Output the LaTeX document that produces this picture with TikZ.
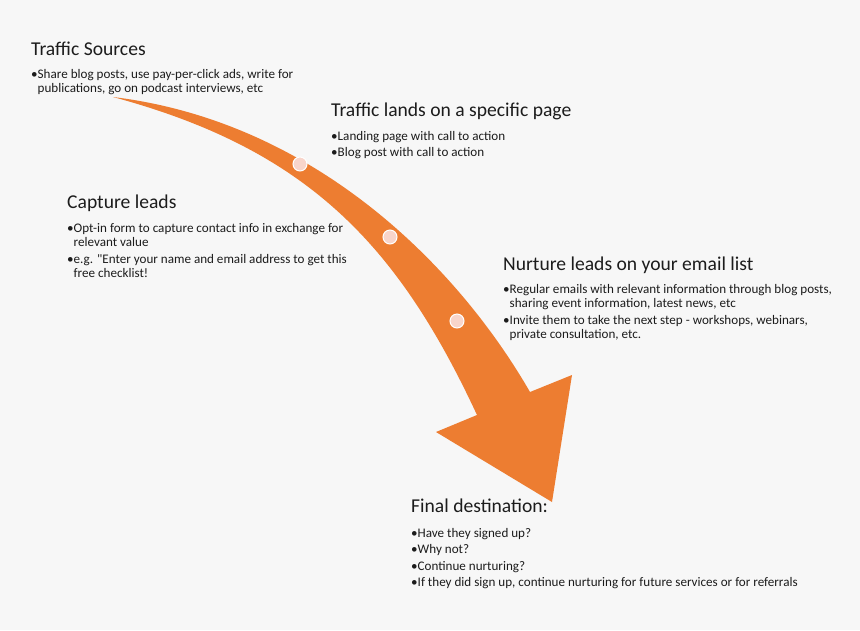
\documentclass[tikz,border=0pt]{standalone}
\usepackage{fontspec}
\setmainfont{Carlito}
\definecolor{arroworange}{HTML}{ED7D31}
\definecolor{dotpink}{HTML}{F8D5CB}
\definecolor{bggray}{HTML}{F7F7F7}
\definecolor{inkgray}{HTML}{1C1C1C}
\newcommand{\headsize}{\fontsize{19.6}{23}\selectfont}
\newcommand{\bodysize}{\fontsize{13.1}{14.6}\selectfont}
\newcommand{\ind}{\phantom{\textbullet}}

\begin{document}
\begin{tikzpicture}[x=1pt,y=-1pt,
  title/.style={anchor=base west,inner sep=0pt,text=inkgray,font=\headsize},
  bullets/.style={anchor=base west,inner sep=0pt,text=inkgray,font=\bodysize}]

	% background
	\fill[bggray] (0,0) rectangle (860,630);
	\useasboundingbox (0,0) rectangle (860,630);

	% arrow
	\fill[arroworange]
	  (113,97) .. controls (311,121) and (455,262) .. (530,392)
	  -- (572,375) -- (552,502) -- (436,432) -- (477,415)
	  .. controls (397,243) and (306,149) .. (113,97) -- cycle;

	% dots
	\foreach \p in {(300,164),(390,237),(457,321)}
	  \draw[white,fill=dotpink,line width=1pt] \p circle (7pt);

	% traffic sources
	\node[title] (srctitle) at (31,55) {Traffic Sources};
	\node[bullets] (srcbody) at (31,78) {\begin{tabular}[t]{@{}l@{}}
	  \textbullet Share blog posts, use pay-per-click ads, write for\\
	  \ind publications, go on podcast interviews, etc\end{tabular}};

	% landing page
	\node[title] (landtitle) at (331,116) {Traffic lands on a specific page};
	\node[bullets] (landbody) at (331,140) {\begin{tabular}[t]{@{}l@{}}
	  \textbullet Landing page with call to action\\[2pt]
	  \textbullet Blog post with call to action\end{tabular}};

	% capture leads
	\node[title] (leadtitle) at (67,208) {Capture leads};
	\node[bullets] (leadbody) at (67,232) {\begin{tabular}[t]{@{}l@{}}
	  \textbullet Opt-in form to capture contact info in exchange for\\
	  \ind relevant value\\[2pt]
	  \textbullet e.g. \textquotedbl Enter your name and email address to get this\\
	  \ind free checklist!\end{tabular}};

	% nurture leads
	\node[title] (nurtitle) at (503,270) {Nurture leads on your email list};
	\node[bullets] (nurbody) at (503,293) {\begin{tabular}[t]{@{}l@{}}
	  \textbullet Regular emails with relevant information through blog posts,\\
	  \ind sharing event information, latest news, etc\\[2pt]
	  \textbullet Invite them to take the next step - workshops, webinars,\\
	  \ind private consultation, etc.\end{tabular}};

	% final destination
	\node[title] (fintitle) at (411,512) {Final destination:};
	\node[bullets] (finbody) at (411,537) {\begin{tabular}[t]{@{}l@{}}
	  \textbullet Have they signed up?\\[2pt]
	  \textbullet Why not?\\[2pt]
	  \textbullet Continue nurturing?\\[2pt]
	  \textbullet If they did sign up, continue nurturing for future services or for referrals\end{tabular}};

\end{tikzpicture}
\end{document}
